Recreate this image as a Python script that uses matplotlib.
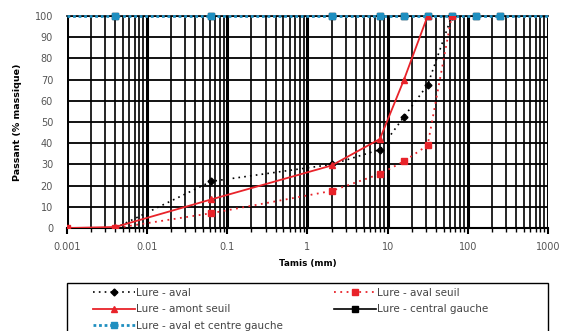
import matplotlib
matplotlib.use("Agg")
import matplotlib.pyplot as plt
from matplotlib.patches import Rectangle
from matplotlib.ticker import LogLocator, FixedLocator, NullFormatter, FuncFormatter

plt.rcParams['font.family'] = ['DejaVu Sans']

# Data
sieve_top = [0.001, 0.004, 0.063, 2, 8, 16, 31.5, 63, 125, 250, 1000]
aval_centre_gauche = [100, 100, 100, 100, 100, 100, 100, 100, 100, 100, 100]
central_gauche = [100, 100, 100, 100, 100, 100, 100, 100, 100, 100, 100]

sieve_aval = [0.004, 0.063, 2, 8, 16, 31.5, 63]
aval = [0, 22, 30, 37, 52.5, 67.5, 100]

sieve_amont = [0.001, 0.004, 0.063, 2, 8, 16, 31.5]
amont_seuil = [0, 0.5, 13.5, 29.5, 42, 70, 100]

sieve_aval_seuil = [0.001, 0.004, 0.063, 2, 8, 16, 31.5, 63]
aval_seuil = [0, 0, 7, 17.5, 25.5, 31.5, 39, 100]

x_ticks = [0.001, 0.01, 0.1, 1, 10, 100, 1000]
x_tick_labels = ["0.001", "0.01", "0.1", "1", "10", "100", "1000"]
y_ticks = list(range(0, 101, 10))

fig = plt.figure(figsize=(5.61, 3.31), dpi=100)
ax = fig.add_axes([0.1194, 0.311, 0.8574, 0.6407])

ax.set_xscale("log")
ax.set_xlim(0.001, 1000)
ax.set_ylim(0, 100)

# grid
ax.xaxis.set_major_locator(FixedLocator(x_ticks))
ax.xaxis.set_minor_locator(LogLocator(base=10, subs=range(2, 10), numticks=20))
ax.xaxis.set_minor_formatter(NullFormatter())
ax.xaxis.set_major_formatter(FuncFormatter(lambda v, p: x_tick_labels[x_ticks.index(v)] if v in x_ticks else ""))
ax.set_yticks(y_ticks)
ax.grid(True, which="major", axis="x", color="black", lw=2.2)
ax.grid(True, which="minor", axis="x", color="black", lw=1.2)
ax.grid(True, which="major", axis="y", color="black", lw=1.3)
ax.set_axisbelow(True)

for s in ["top", "right"]:
    ax.spines[s].set_visible(False)
ax.spines["left"].set_visible(False)
ax.spines["bottom"].set_linewidth(1.5)

ax.tick_params(axis="x", which="major", length=4, width=1.5, labelsize=7, labelcolor="#555555", pad=6)
ax.tick_params(axis="x", which="minor", length=3, width=1.0)
ax.tick_params(axis="y", length=0, labelsize=7, labelcolor="#555555", pad=10)

# series
ax.plot(sieve_top, central_gauche, color="black", lw=1.2, marker="s", ms=4,
        markevery=list(range(1, len(sieve_top) - 1)), label="Lure - central gauche", clip_on=False, zorder=3)
ax.plot(sieve_top, aval_centre_gauche, color="#1f8fc0", lw=2.0, ls=(0, (1, 1)), marker="s", ms=5,
        markevery=list(range(1, len(sieve_top) - 1)), label="Lure - aval et centre gauche", clip_on=False, zorder=4)
ax.plot(sieve_aval, aval, color="black", lw=1.2, ls=(0, (1, 2.5)), marker="D", ms=3.5,
        label="Lure - aval", zorder=5)
ax.plot(sieve_amont, amont_seuil, color="#e8232a", lw=1.3, marker="^", ms=4,
        label="Lure - amont seuil", zorder=5)
ax.plot(sieve_aval_seuil, aval_seuil, color="#e8232a", lw=1.3, ls=(0, (1, 2.5)), marker="s", ms=4,
        label="Lure - aval seuil", zorder=5)

ax.set_xlabel("Tamis (mm)", fontsize=6.3, fontweight="bold", labelpad=5)
ax.set_ylabel("Passant (% massique)", fontsize=6.8, fontweight="bold", labelpad=9)

handles, labels = ax.get_legend_handles_labels()
order = ["Lure - aval", "Lure - amont seuil", "Lure - aval et centre gauche",
         "Lure - aval seuil", "Lure - central gauche"]
hd = dict(zip(labels, handles))
leg = fig.legend([hd[k] for k in order], order, loc="upper left",
                 bbox_to_anchor=(93 / 561, 1 - 288 / 331), ncol=2,
                 fontsize=7.5, frameon=False, borderpad=0.0, labelspacing=0.62,
                 handlelength=4.0, handletextpad=0.15, columnspacing=4.9,
                 borderaxespad=0)
for t in leg.get_texts():
    t.set_color("#444444")

# legend frame
fig.patches.append(Rectangle((67 / 561, -0.05), (548 - 67) / 561, 0.05 + (331 - 283) / 331,
                             transform=fig.transFigure, fill=False, edgecolor="black", lw=1.0))

fig.savefig("out.png", dpi=100)
